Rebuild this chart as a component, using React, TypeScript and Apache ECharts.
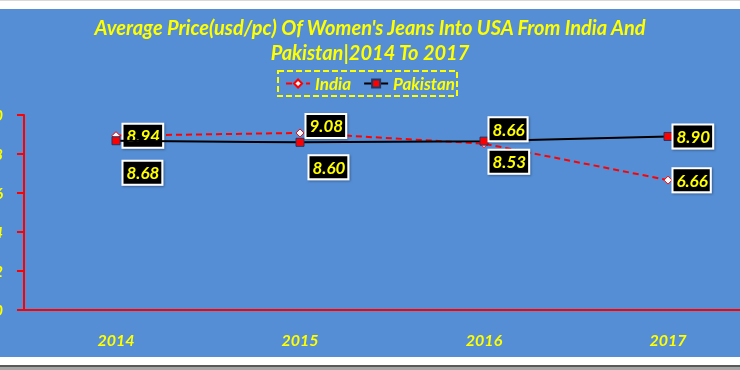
import React, { useEffect, useRef } from "react";
import * as echarts from "echarts";

const years = ["2014", "2015", "2016", "2017"];
const india = [8.94, 9.08, 8.53, 6.66];
const pakistan = [8.68, 8.6, 8.66, 8.9];
const indiaLabelOffsets = [[-1, 0], [-2, -7], [-3, 18], [-3, 0]];
const pakistanLabelOffsets = [[-1, 32], [1, 25], [-3, -12], [-3, 0]];

const YELLOW = "#FFFF00";
const BLUE = "#558ED5";
const FONT = "Lato";

export default function App() {
  const ref = useRef<HTMLDivElement>(null);
  useEffect(() => {
    if (!ref.current) return;
    const chart = echarts.init(ref.current, undefined, { renderer: "svg" });
    const labelBase = {
      show: true,
      position: "right" as const,
      distance: 4,
      color: YELLOW,
      fontFamily: FONT,
      fontStyle: "italic" as const,
      fontWeight: "bold" as const,
      fontSize: 17,
      backgroundColor: "#000000",
      borderColor: "#FFFFFF",
      borderWidth: 2,
      padding: [3, 2, 2, 3],
      shadowColor: "rgba(0,0,0,0.35)",
      shadowBlur: 2,
      shadowOffsetX: 1,
      shadowOffsetY: 1,
      formatter: (p: any) => Number(p.value).toFixed(2),
    };
    chart.setOption({
      animation: false,
      backgroundColor: "transparent",
      graphic: [
        { type: "rect", z: -100, shape: { x: 0, y: 0, width: 740, height: 370 }, style: { fill: "#FFFFFF" } },
        { type: "rect", z: -99, shape: { x: 0, y: 0, width: 740, height: 1 }, style: { fill: "#D9D9D9" } },
        { type: "rect", z: -99, shape: { x: 0, y: 9, width: 740, height: 348 }, style: { fill: BLUE } },
        { type: "rect", z: -99, shape: { x: 0, y: 365, width: 740, height: 2 }, style: { fill: "#595959" } },
        { type: "rect", z: -99, shape: { x: 0, y: 367, width: 740, height: 3 }, style: { fill: "#A6A6A6" } },
        {
          type: "rect",
          z: 10,
          shape: { x: 278, y: 71, width: 179, height: 25 },
          style: { fill: "none", stroke: YELLOW, lineWidth: 2, lineDash: [6, 3] },
        },
      ],
      title: {
        text: "Average Price(usd/pc) Of Women's Jeans Into USA From India And\nPakistan|2014 To 2017",
        left: "center",
        top: 9,
        textStyle: {
          color: YELLOW,
          fontFamily: FONT,
          fontStyle: "italic",
          fontWeight: "bold",
          fontSize: 20,
          lineHeight: 25,
        },
      },
      legend: {
        top: 70,
        left: "center",
        itemWidth: 24,
        itemHeight: 10,
        itemGap: 12,
        textStyle: {
          color: YELLOW,
          fontFamily: FONT,
          fontStyle: "italic",
          fontWeight: "bold",
          fontSize: 17,
        },
        data: ["India", "Pakistan"],
      },
      grid: { left: 24, top: 115, width: 736, height: 195, containLabel: false, outerBoundsMode: "none" },
      xAxis: {
        type: "category",
        data: years,
        boundaryGap: true,
        axisLine: { lineStyle: { color: "#FF0000", width: 2 } },
        axisTick: { show: false },
        axisLabel: {
          color: YELLOW,
          fontFamily: FONT,
          fontStyle: "italic",
          fontWeight: "bold",
          fontSize: 16,
          margin: 21,
        },
      },
      yAxis: {
        type: "value",
        min: 0,
        max: 10,
        interval: 2,
        splitLine: { show: false },
        axisLine: { show: true, lineStyle: { color: "#FF0000", width: 2 } },
        axisTick: { show: true, length: 7, lineStyle: { color: "#FF0000", width: 2 } },
        axisLabel: {
          color: YELLOW,
          fontFamily: FONT,
          fontStyle: "italic",
          fontWeight: "bold",
          fontSize: 15,
          margin: 21,
        },
      },
      series: [
        {
          name: "India",
          type: "line",
          z: 2,
          symbol: "diamond",
          symbolSize: 8,
          itemStyle: { color: "#FFFFFF", borderColor: "#FF0000", borderWidth: 1 },
          lineStyle: { color: "#FF0000", width: 2, type: [6, 4] },
          data: india.map((v, i) => ({ value: v, label: { offset: indiaLabelOffsets[i] } })),
          label: labelBase,
        },
        {
          name: "Pakistan",
          type: "line",
          z: 3,
          symbol: "rect",
          symbolSize: 8,
          itemStyle: { color: "#FF0000", borderColor: "#1F3864", borderWidth: 1 },
          lineStyle: { color: "#000000", width: 2 },
          data: pakistan.map((v, i) => ({ value: v, label: { offset: pakistanLabelOffsets[i] } })),
          label: labelBase,
        },
      ],
    });
    return () => chart.dispose();
  }, []);
  return (
    <div style={{ position: "fixed", left: 0, top: 0, width: 740, height: 370 }}>
      <div ref={ref} style={{ width: 740, height: 370 }} />
    </div>
  );
}
